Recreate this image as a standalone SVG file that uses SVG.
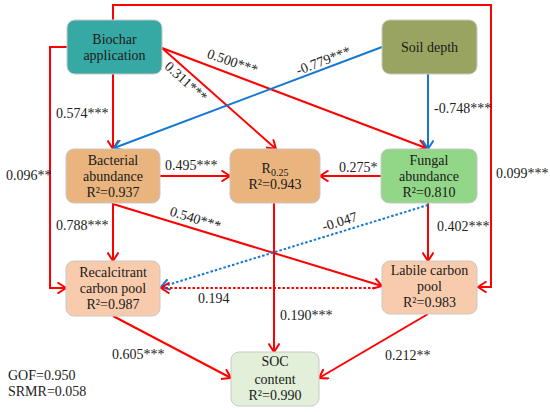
<svg xmlns="http://www.w3.org/2000/svg" width="550" height="412" viewBox="0 0 550 412">
<defs>
<marker id="ar" viewBox="0 0 10 12" markerWidth="10" markerHeight="12" refX="9" refY="6" orient="auto" markerUnits="userSpaceOnUse">
<path d="M0.5,0.5 L9,6 L0.5,11.5" fill="none" stroke="#FF0000" stroke-width="2"/>
</marker>
<marker id="ab" viewBox="0 0 10 12" markerWidth="10" markerHeight="12" refX="9" refY="6" orient="auto" markerUnits="userSpaceOnUse">
<path d="M0.5,0.5 L9,6 L0.5,11.5" fill="none" stroke="#1478D2" stroke-width="2"/>
</marker>
</defs>
<style>
text{font-family:"Liberation Serif","Times New Roman",serif;fill:#1a1a1a}
.n{font-size:14px;text-anchor:middle}
.l{font-size:14px;fill:#222}
.box{stroke:#C8C8C8;stroke-width:1}
.r{fill:none;stroke:#FF0000;stroke-width:2;marker-end:url(#ar)}
.b{fill:none;stroke:#1478D2;stroke-width:2;marker-end:url(#ab)}
.d{stroke-dasharray:2.5,2}
</style>
<g id="connectors">
<path class="r" d="M113,20 V5 H491 V287 H478"/>
<path class="r" d="M67,47 H50 V288 H66"/>
<path class="r" d="M113,74 V149"/>
<path class="r" d="M162,48 L426,148"/>
<path class="r" d="M162,48 L276,149"/>
<path class="b" d="M382,47 L114,148"/>
<path class="b" d="M428,74 V149"/>
<path class="r" d="M160,176 H230"/>
<path class="r" d="M381,176 H320"/>
<path class="r" d="M113,203 V261"/>
<path class="r" d="M113,204 L382,286"/>
<path class="r" d="M274,203 V352"/>
<path class="r" d="M428,203 V261"/>
<path class="b d" d="M428,205 L161,287"/>
<path class="r d" d="M375,288 H161"/>
<path class="r" d="M113,316 L231,378"/>
<path class="r" d="M428,314 L319,378"/>
</g>
<g id="biochar">
<rect class="box" x="67" y="20" width="95" height="54" rx="8" fill="#37A9A5"/>
<text class="n" x="114.5" y="44">Biochar</text>
<text class="n" x="114.5" y="60">application</text>
</g>
<g id="soil">
<rect class="box" x="382" y="20" width="95" height="54" rx="8" fill="#9AA461"/>
<text class="n" x="429.5" y="52">Soil depth</text>
</g>
<g id="bacterial">
<rect class="box" x="66" y="149" width="94" height="54" rx="8" fill="#E9B47E"/>
<text class="n" x="113" y="165">Bacterial</text>
<text class="n" x="113" y="181">abundance</text>
<text class="n" x="113" y="197">R²=0.937</text>
</g>
<g id="r025">
<rect class="box" x="230" y="149" width="90" height="54" rx="8" fill="#E9B47E"/>
<text class="n" x="275" y="173">R<tspan font-size="10" dy="3">0.25</tspan></text>
<text class="n" x="275" y="189">R²=0.943</text>
</g>
<g id="fungal">
<rect class="box" x="381" y="149" width="96" height="54" rx="8" fill="#92D688"/>
<text class="n" x="429" y="165">Fungal</text>
<text class="n" x="429" y="181">abundance</text>
<text class="n" x="429" y="197">R²=0.810</text>
</g>
<g id="recalcitrant">
<rect class="box" x="66" y="261" width="94" height="55" rx="8" fill="#F9CBAD"/>
<text class="n" x="113" y="277">Recalcitrant</text>
<text class="n" x="113" y="293">carbon pool</text>
<text class="n" x="113" y="309">R²=0.987</text>
</g>
<g id="labile">
<rect class="box" x="382" y="261" width="95" height="53" rx="8" fill="#F9CBAD"/>
<text class="n" x="429.5" y="275">Labile carbon</text>
<text class="n" x="429.5" y="291">pool</text>
<text class="n" x="429.5" y="307">R²=0.983</text>
</g>
<g id="soc">
<rect class="box" x="231" y="352" width="88" height="54" rx="8" fill="#E2F0D9"/>
<text class="n" x="275" y="366">SOC</text>
<text class="n" x="275" y="384">content</text>
<text class="n" x="275" y="400">R²=0.990</text>
</g>
<g id="labels">
<text class="l" x="56" y="118">0.574***</text>
<text class="l" x="6" y="180">0.096**</text>
<text class="l" x="56" y="230">0.788***</text>
<text class="l" x="165" y="170">0.495***</text>
<text class="l" x="339" y="172">0.275*</text>
<text class="l" x="496" y="178">0.099***</text>
<text class="l" x="437" y="231">0.402***</text>
<text class="l" x="434" y="113">-0.748***</text>
<text class="l" x="198" y="303">0.194</text>
<text class="l" x="280" y="320">0.190***</text>
<text class="l" x="112" y="359">0.605***</text>
<text class="l" x="385" y="360">0.212**</text>
<text class="l" text-anchor="middle" transform="translate(231,66) rotate(19)">0.500***</text>
<text class="l" text-anchor="middle" transform="translate(183,85) rotate(42)">0.311***</text>
<text class="l" text-anchor="middle" transform="translate(325,65) rotate(-21)">-0.779***</text>
<text class="l" text-anchor="middle" transform="translate(194,223) rotate(17)">0.540***</text>
<text class="l" text-anchor="middle" transform="translate(341,226) rotate(-17)">-0.047</text>
<text class="l" x="8" y="380">GOF=0.950</text>
<text class="l" x="8" y="396">SRMR=0.058</text>
</g>
</svg>
